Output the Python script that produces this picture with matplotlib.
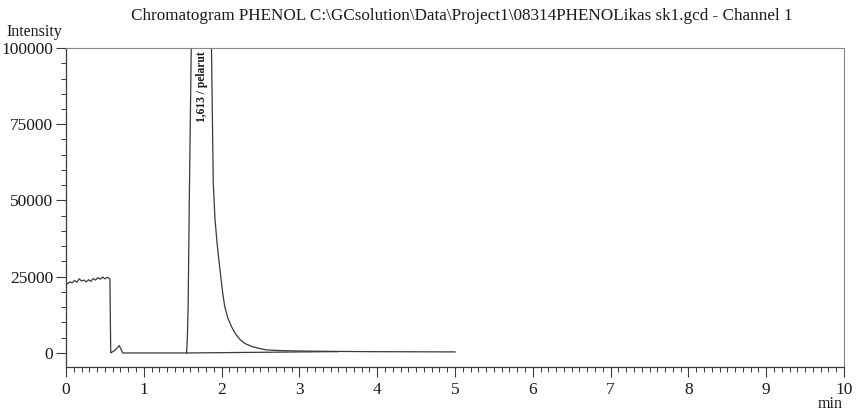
import matplotlib
matplotlib.use("Agg")
import matplotlib.pyplot as plt
from matplotlib.ticker import MultipleLocator, FixedLocator

# Detector trace (time in min, intensity in counts)
solvent_time = [0.00, 0.02, 0.05, 0.08, 0.11, 0.14, 0.17, 0.20, 0.23, 0.26,
                0.29, 0.32, 0.35, 0.38, 0.41, 0.44, 0.47, 0.50, 0.53, 0.555,
                0.565, 0.575, 0.63, 0.685, 0.73, 1.55]
solvent_signal = [23000, 22700, 23300, 23000, 23800, 23200, 24300, 23600, 23900, 23300,
                  24000, 23500, 24400, 23900, 24700, 24200, 24900, 24300, 24800, 24500,
                  24200, 0, 900, 2400, 0, 0]

peak_time = [1.55, 1.56, 1.57, 1.585, 1.61, 1.65, 1.75, 1.85, 1.87, 1.893, 1.915, 1.94,
             1.965, 1.99, 2.015, 2.04, 2.08, 2.13, 2.18, 2.24, 2.30, 2.39, 2.48, 2.58,
             2.70, 2.85, 3.00, 3.50, 4.00, 5.00]
peak_signal = [0, 5000, 15000, 50000, 100000, 200000, 400000, 160000, 100000, 55700, 44000, 36500,
               30500, 25000, 19500, 15300, 11500, 8500, 6200, 4300, 3100, 2100, 1500, 1000,
               850, 720, 650, 500, 420, 350]

# Integration baseline under the solvent peak
baseline_time = [1.55, 3.50]
baseline_signal = [0, 450]

peak_label = "1,613 / pelarut"
peak_label_time = 1.613
title = "Chromatogram PHENOL C:\\GCsolution\\Data\\Project1\\08314PHENOLikas sk1.gcd - Channel 1"

serif = ["Liberation Serif", "DejaVu Serif"]
plt.rcParams["font.family"] = serif

fig = plt.figure(figsize=(8.58, 4.16), dpi=100)
ax = fig.add_axes([0.0769, 0.1178, 0.9068, 0.7668])

trace_color = "#3a3a3a"
text_color = "#1a1a1a"
ax.plot(solvent_time, solvent_signal, color=trace_color, lw=0.9)
ax.plot(peak_time, peak_signal, color=trace_color, lw=0.9)
ax.plot(baseline_time, baseline_signal, color=trace_color, lw=0.9)

ax.set_xlim(0, 10)
ax.set_ylim(-4600, 100000)

ax.xaxis.set_major_locator(MultipleLocator(1))
ax.xaxis.set_minor_locator(MultipleLocator(0.1))
ax.yaxis.set_major_locator(FixedLocator([0, 25000, 50000, 75000, 100000]))
ax.yaxis.set_minor_locator(MultipleLocator(5000))

ax.tick_params(axis="both", which="major", direction="out", length=7, width=0.8,
               color=trace_color, labelsize=12.5, labelcolor=text_color, pad=2)
ax.tick_params(axis="both", which="minor", direction="out", length=3.5, width=0.7,
               color=trace_color)
ax.tick_params(axis="x", which="major", pad=4)

for side in ("left", "bottom"):
    ax.spines[side].set_color(trace_color)
    ax.spines[side].set_linewidth(0.9)
ax.spines["right"].set_color("#777777")
ax.spines["right"].set_linewidth(0.7)
ax.spines["top"].set_color("#888888")
ax.spines["top"].set_linewidth(0.8)
ax.spines["top"].set_linestyle((0, (3, 1)))

ax.text(peak_label_time + 0.13, 98800, peak_label, rotation=90, ha="center", va="top",
        fontsize=8.3, fontweight="bold", color=text_color)

fig.text(0.538, 0.962, title, ha="center", va="center", fontsize=12.3, color=text_color)
fig.text(0.008, 0.924, "Intensity", ha="left", va="center", fontsize=11.5, color=text_color)
fig.text(0.967, 0.028, "min", ha="center", va="center", fontsize=11.5, color=text_color)

fig.savefig("out.png", dpi=100)
